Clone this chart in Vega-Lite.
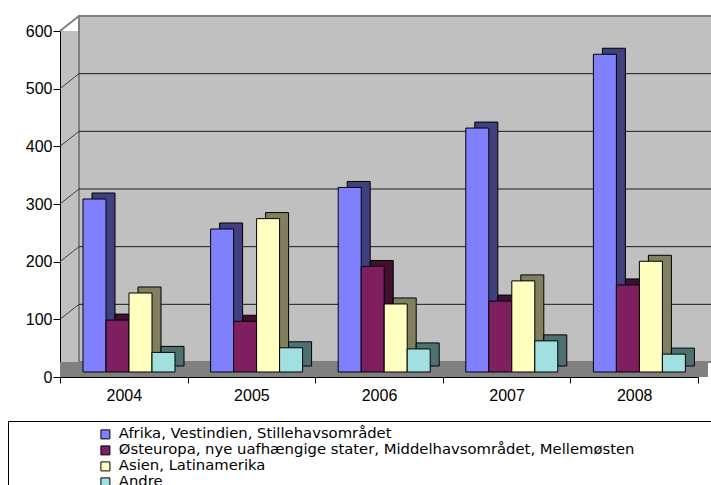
{
  "$schema": "https://vega.github.io/schema/vega-lite/v6.json",
  "width": 638,
  "height": 346,
  "autosize": {"type": "none"},
  "padding": {"left": 60, "top": 31, "right": 13, "bottom": 108},
  "background": "white",
  "datasets": {
    "regions": [
      {"year": "2004", "region": "Afrika, Vestindien, Stillehavsområdet", "value": 300},
      {"year": "2004", "region": "Østeuropa, nye uafhængige stater, Middelhavsområdet, Mellemøsten", "value": 90},
      {"year": "2004", "region": "Asien, Latinamerika", "value": 137},
      {"year": "2004", "region": "Andre", "value": 34},
      {"year": "2005", "region": "Afrika, Vestindien, Stillehavsområdet", "value": 248},
      {"year": "2005", "region": "Østeuropa, nye uafhængige stater, Middelhavsområdet, Mellemøsten", "value": 88},
      {"year": "2005", "region": "Asien, Latinamerika", "value": 266},
      {"year": "2005", "region": "Andre", "value": 42},
      {"year": "2006", "region": "Afrika, Vestindien, Stillehavsområdet", "value": 320},
      {"year": "2006", "region": "Østeuropa, nye uafhængige stater, Middelhavsområdet, Mellemøsten", "value": 183},
      {"year": "2006", "region": "Asien, Latinamerika", "value": 118},
      {"year": "2006", "region": "Andre", "value": 40},
      {"year": "2007", "region": "Afrika, Vestindien, Stillehavsområdet", "value": 423},
      {"year": "2007", "region": "Østeuropa, nye uafhængige stater, Middelhavsområdet, Mellemøsten", "value": 123},
      {"year": "2007", "region": "Asien, Latinamerika", "value": 158},
      {"year": "2007", "region": "Andre", "value": 54},
      {"year": "2008", "region": "Afrika, Vestindien, Stillehavsområdet", "value": 551},
      {"year": "2008", "region": "Østeuropa, nye uafhængige stater, Middelhavsområdet, Mellemøsten", "value": 151},
      {"year": "2008", "region": "Asien, Latinamerika", "value": 192},
      {"year": "2008", "region": "Andre", "value": 31}
    ]
  },
  "config": {
    "view": {"fill": "#C0C0C0", "stroke": null},
    "font": "Liberation Sans",
    "axisX": {"labelAngle": 0, "tickBand": "extent", "domainColor": "black", "tickColor": "black", "tickSize": 6, "labelFontSize": 16, "labelColor": "black", "labelPadding": 4, "labelFont": "Liberation Sans", "grid": false, "title": null},
    "axisY": {"domainColor": "black", "tickColor": "black", "tickSize": 7, "labelFontSize": 16, "labelColor": "black", "labelPadding": 1, "labelFont": "Liberation Sans", "grid": false, "title": null}
  },
  "layer": [
    {
      "data": {"values": [{"lo": 0, "hi": 600}]},
      "mark": {"type": "rect", "fill": "#C0C0C0", "stroke": "#808080", "strokeWidth": 2, "xOffset": 19, "x2Offset": 14, "yOffset": -15, "y2Offset": -15},
      "encoding": {
        "x": {"datum": "2004", "type": "nominal", "bandPosition": 0},
        "x2": {"datum": "2008", "bandPosition": 1},
        "y": {"field": "hi", "type": "quantitative", "scale": {"domain": [0, 600], "nice": false}, "title": null},
        "y2": {"field": "lo"}
      }
    },
    {
      "data": {"values": [{"v": 0}]},
      "mark": {"type": "rect", "fill": "#808080", "x2Offset": 10, "y2Offset": -15},
      "encoding": {
        "x": {"datum": "2004", "type": "nominal", "bandPosition": 0},
        "x2": {"datum": "2008", "bandPosition": 1},
        "y": {"field": "v", "type": "quantitative", "title": null},
        "y2": {"field": "v"}
      }
    },
    {
      "data": {"values": [{"g": 100}, {"g": 200}, {"g": 300}, {"g": 400}, {"g": 500}]},
      "mark": {"type": "rule", "color": "#1a1a1a", "strokeWidth": 1, "xOffset": 19, "x2Offset": 14, "yOffset": -15, "y2Offset": -15},
      "encoding": {
        "x": {"datum": "2004", "type": "nominal", "bandPosition": 0},
        "x2": {"datum": "2008", "bandPosition": 1},
        "y": {"field": "g", "type": "quantitative", "title": null},
        "y2": {"field": "g"}
      }
    },
    {
      "data": {"values": [{"g": 100}, {"g": 200}, {"g": 300}, {"g": 400}, {"g": 500}]},
      "mark": {"type": "rule", "color": "#404040", "strokeWidth": 1, "x2Offset": 19, "y2Offset": -15},
      "encoding": {
        "x": {"datum": "2004", "type": "nominal", "bandPosition": 0},
        "x2": {"datum": "2004", "bandPosition": 0},
        "y": {"field": "g", "type": "quantitative", "title": null},
        "y2": {"field": "g"}
      }
    },
    {
      "data": {"values": [{"g": 600}]},
      "mark": {"type": "rule", "color": "#808080", "strokeWidth": 2, "x2Offset": 19, "y2Offset": -15},
      "encoding": {
        "x": {"datum": "2004", "type": "nominal", "bandPosition": 0},
        "x2": {"datum": "2004", "bandPosition": 0},
        "y": {"field": "g", "type": "quantitative", "title": null},
        "y2": {"field": "g"}
      }
    },
    {
      "data": {"name": "regions"},
      "mark": {"type": "bar", "stroke": "black", "strokeWidth": 1, "yOffset": -11, "y2Offset": -11},
      "encoding": {
        "x": {"field": "year", "type": "nominal", "scale": {"paddingInner": 0, "paddingOuter": 0}, "title": null},
        "xOffset": {"field": "region", "type": "nominal", "scale": {"domain": ["Afrika, Vestindien, Stillehavsområdet", "Østeuropa, nye uafhængige stater, Middelhavsområdet, Mellemøsten", "Asien, Latinamerika", "Andre"], "paddingInner": 0, "paddingOuter": 0.774, "align": 0.899}},
        "y": {"field": "value", "type": "quantitative", "stack": null, "title": null},
        "y2": {"datum": 0},
        "fill": {"field": "region", "type": "nominal", "scale": {"domain": ["Afrika, Vestindien, Stillehavsområdet", "Østeuropa, nye uafhængige stater, Middelhavsområdet, Mellemøsten", "Asien, Latinamerika", "Andre"], "range": ["#40407F", "#401030", "#808060", "#507070"]}, "legend": null}
      }
    },
    {
      "data": {"name": "regions"},
      "mark": {"type": "bar", "stroke": "black", "strokeWidth": 1, "yOffset": -5, "y2Offset": -5},
      "encoding": {
        "x": {"field": "year", "type": "nominal", "scale": {"paddingInner": 0, "paddingOuter": 0}, "title": null},
        "xOffset": {"field": "region", "type": "nominal", "scale": {"domain": ["Afrika, Vestindien, Stillehavsområdet", "Østeuropa, nye uafhængige stater, Middelhavsområdet, Mellemøsten", "Asien, Latinamerika", "Andre"], "paddingInner": 0, "paddingOuter": 0.774, "align": 0.646}},
        "y": {"field": "value", "type": "quantitative", "stack": null, "title": null, "scale": {"domain": [0, 600], "nice": false}, "axis": {"values": [0, 100, 200, 300, 400, 500, 600]}},
        "y2": {"datum": 0},
        "color": {
          "field": "region",
          "type": "nominal",
          "scale": {"domain": ["Afrika, Vestindien, Stillehavsområdet", "Østeuropa, nye uafhængige stater, Middelhavsområdet, Mellemøsten", "Asien, Latinamerika", "Andre"], "range": ["#8080FF", "#7F1F5F", "#FFFFC0", "#A0E0E0"]},
          "legend": {
            "orient": "none", "legendX": -52, "legendY": 390,
            "title": " ", "titleOrient": "left", "titlePadding": 84, "titleFontSize": 15,
            "padding": 6, "strokeColor": "black", "fillColor": "white", "cornerRadius": 0,
            "symbolType": "square", "symbolSize": 81, "symbolStrokeColor": "black", "symbolStrokeWidth": 1,
            "labelFontSize": 14.8, "labelFont": "DejaVu Sans", "labelColor": "black", "labelLimit": 0, "labelOffset": 6,
            "rowPadding": 0,
            "labelExpr": "length(datum.label) > 40 ? datum.label + '\u00a0\u00a0\u00a0\u00a0\u00a0\u00a0\u00a0\u00a0\u00a0\u00a0\u00a0\u00a0\u00a0\u00a0\u00a0\u00a0\u00a0\u00a0\u00a0\u00a0\u00a0\u00a0\u00a0\u00a0\u00a0\u00a0\u00a0\u00a0\u00a0\u00a0\u00a0\u00a0\u00a0\u00a0\u00a0\u00a0.' : datum.label"
          }
        }
      }
    }
  ],
  "resolve": {"scale": {"xOffset": "independent", "fill": "independent", "color": "independent"}}
}
